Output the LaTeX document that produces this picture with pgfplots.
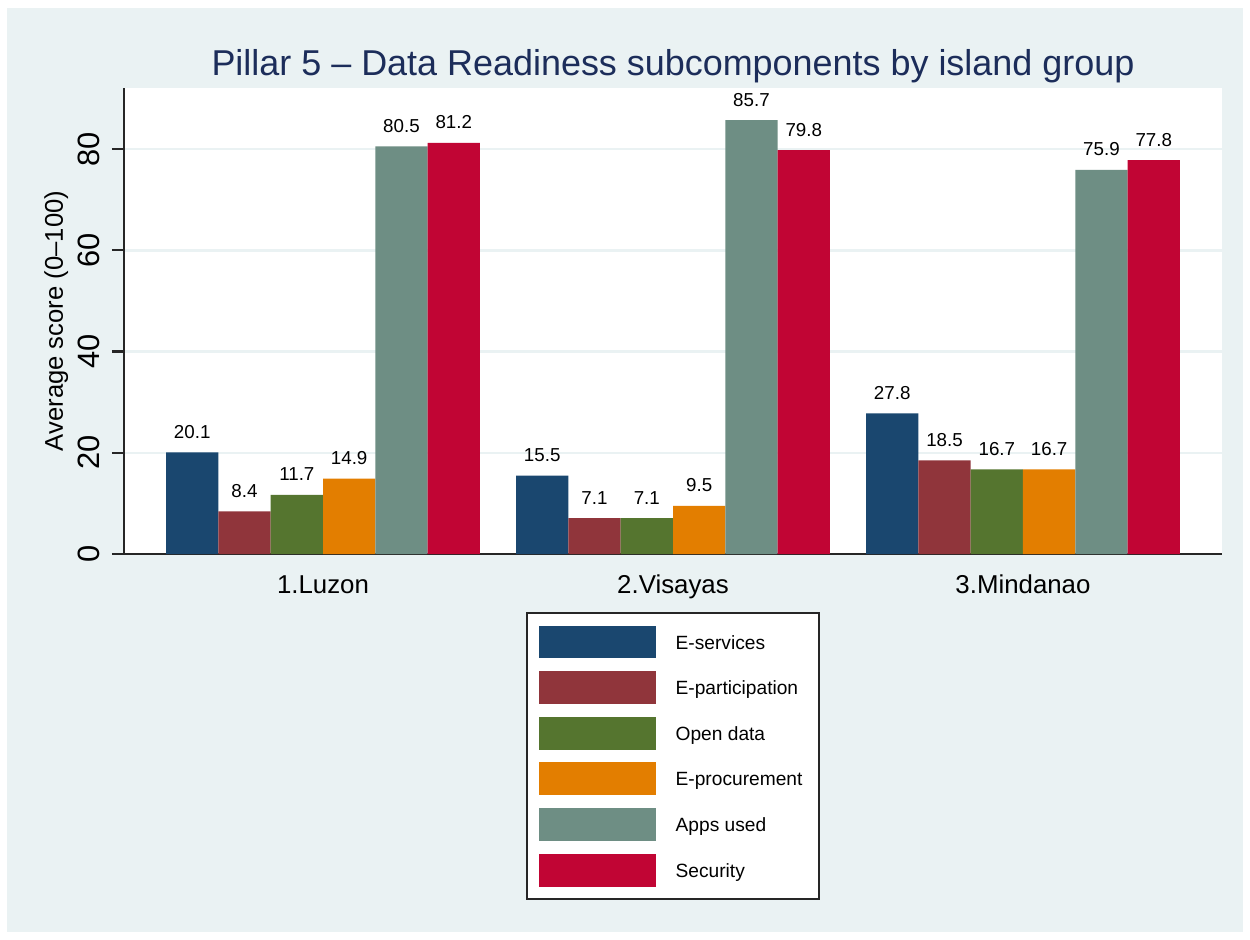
\documentclass[border=0pt]{standalone}
\usepackage{fontspec}
\setmainfont{Liberation Sans}
\usepackage{pgfplots}
\pgfplotsset{compat=1.18}
\definecolor{bgc}{RGB}{234,242,243}
\definecolor{c1}{RGB}{26,71,111}
\definecolor{c2}{RGB}{144,53,59}
\definecolor{c3}{RGB}{85,117,47}
\definecolor{c4}{RGB}{227,126,0}
\definecolor{c5}{RGB}{110,142,132}
\definecolor{c6}{RGB}{193,5,52}
\definecolor{titlec}{RGB}{28,45,90}
\pgfplotsset{
  /pgf/number format/assume math mode=true,
  swatch/.style={legend image code/.code={\fill[##1,draw=none] (0pt,-7.0pt) rectangle (56.2pt,8.8pt); \path[draw=none,fill=none] (0pt,0pt) (63.4pt,0pt);}},
}
\begin{document}
\begin{tikzpicture}
\fill[white] (-59.52pt,-184.8pt) rectangle (540.48pt,265.92pt);
\fill[bgc] (-56.16pt,-181.44pt) rectangle (537.12pt,262.08pt);
\begin{axis}[
  at={(0pt,0pt)}, anchor=south west,
  scale only axis, width=527.04pt, height=223.68pt,
  axis background/.style={fill=white},
  ybar, bar width=0.1495,
  xmin=-0.5686, xmax=2.5686, ymin=0, ymax=92.05,
  xtick={0,1,2}, xticklabels={1.Luzon,2.Visayas,3.Mindanao},
  ytick={0,20,40,60,80},
  axis x line*=bottom, axis y line*=left,
  axis line style={black!85, line width=1pt},
  x axis line style={-}, y axis line style={-},
  major x tick style={draw=none},
  major y tick style={black!85, line width=1pt},
  tick align=outside, major tick length=5.8pt,
  ymajorgrids, major grid style={bgc, line width=1.2pt},
  xticklabel style={font=\fontsize{12.4}{14}\selectfont, anchor=base, yshift=-13.24pt},
  yticklabel style={font=\fontsize{14.8}{17}\selectfont, rotate=90, anchor=south, inner xsep=0pt, inner ysep=5.8pt},
  ylabel={Average score (0–100)},
  every axis y label/.style={font=\fontsize{12.3}{15}\selectfont, at={(axis description cs:0,0.5)}, rotate=90, anchor=base, yshift=29.3pt},
  title={Pillar 5 – Data Readiness subcomponents by island group},
  title style={font=\fontsize{17.25}{20}\selectfont, color=titlec, at={(axis description cs:0.5,1)}, anchor=base, yshift=0.24pt},
  nodes near coords,
  nodes near coords style={font=\fontsize{9}{11}\selectfont, anchor=base, yshift=6.7pt, /pgf/number format/.cd, fixed, fixed zerofill, precision=1},
  legend style={at={(axis description cs:0.5,-0.1245)}, anchor=north, draw=black!85, line width=1pt, fill=white,
    font=\fontsize{9.2}{11}\selectfont, row sep=6.1pt, inner xsep=6pt, inner ysep=6pt,
    legend cell align=left},
  legend columns=1,
]
\addplot[fill=c1, draw=none, swatch, bar shift=-0.37375] coordinates {(0,20.1) (1,15.5) (2,27.8)};
\addplot[fill=c2, draw=none, swatch, bar shift=-0.22425] coordinates {(0,8.4) (1,7.1) (2,18.5)};
\addplot[fill=c3, draw=none, swatch, bar shift=-0.07475] coordinates {(0,11.7) (1,7.1) (2,16.7)};
\addplot[fill=c4, draw=none, swatch, bar shift=0.07475] coordinates {(0,14.9) (1,9.5) (2,16.7)};
\addplot[fill=c5, draw=none, swatch, bar shift=0.22425] coordinates {(0,80.5) (1,85.7) (2,75.9)};
\addplot[fill=c6, draw=none, swatch, bar shift=0.37375] coordinates {(0,81.2) (1,79.8) (2,77.8)};
\legend{E-services,E-participation,Open data,E-procurement,Apps used,Security}
\end{axis}
\end{tikzpicture}
\end{document}
